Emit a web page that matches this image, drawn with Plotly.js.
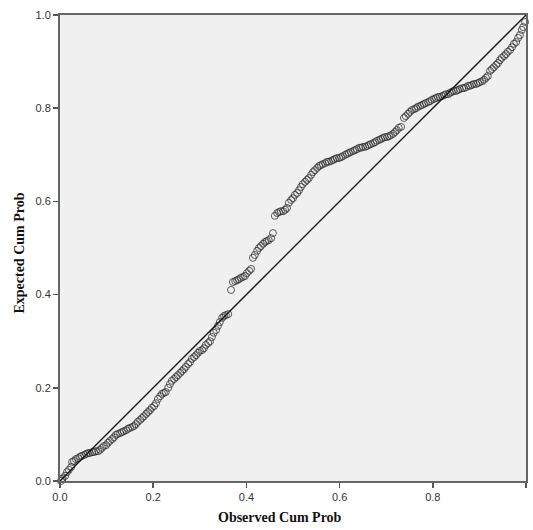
<!DOCTYPE html>
<html>
<head>
<meta charset="utf-8">
<script src="https://cdn.plot.ly/plotly-3.0.1.min.js"></script>
<style>html,body{margin:0;padding:0;background:#fff}#chart{width:533px;height:530px}</style>
</head>
<body>
<div id="chart"></div>
<script>
// Observed cumulative probability (x) and expected cumulative probability (y)
var observedCumProb = [
0.002,0.004,0.006,0.011,0.015,0.019,0.024,0.026,0.030,0.034,0.039,0.043,0.047,0.052,0.056,0.060,0.064,0.069,0.073,0.077,0.082,0.086,
0.090,0.094,0.099,0.103,0.107,0.112,0.116,0.120,0.124,0.129,0.133,0.137,0.142,0.146,0.150,0.155,0.159,0.163,0.167,0.172,0.176,0.180,0.185,0.189,0.193,0.197,0.202,0.206,0.210,0.215,0.219,0.223,0.227,0.232,0.236,0.240,0.245,0.249,0.253,0.258,0.262,0.266,0.270,0.275,0.279,0.283,0.288,0.292,0.296,0.300,0.305,0.309,0.313,0.318,0.322,0.326,0.330,0.335,0.339,0.343,0.348,0.352,0.356,0.361,
0.367,0.371,0.376,0.380,0.384,0.388,0.393,0.397,0.401,0.406,0.410,
0.414,0.418,0.423,0.427,0.431,0.436,0.440,0.444,0.448,0.453,0.457,
0.461,0.466,0.470,0.474,0.479,0.483,0.487,0.491,0.496,0.500,0.504,0.509,0.513,0.517,0.521,0.526,0.530,0.534,0.539,0.543,0.547,0.552,0.556,0.560,0.564,0.569,0.573,0.577,0.582,0.586,0.590,0.594,0.599,0.603,0.607,0.612,0.616,0.620,0.624,0.629,0.633,0.637,0.642,0.646,0.650,0.655,0.659,0.663,0.667,0.672,0.676,0.680,0.685,0.689,0.693,0.697,0.702,0.706,0.710,0.715,0.719,0.723,0.727,0.732,
0.738,0.742,0.747,0.751,0.755,0.760,0.764,0.768,0.773,0.777,0.781,0.785,0.790,0.794,0.798,0.803,0.807,0.811,0.815,0.820,0.824,0.828,0.833,0.837,0.841,0.845,0.850,0.854,0.858,0.863,0.867,0.871,0.876,0.880,0.884,0.888,0.893,0.897,0.901,0.906,0.910,0.914,0.918,0.923,0.927,0.931,0.936,0.940,0.944,0.948,0.953,0.957,0.961,0.966,0.970,0.974,0.979,0.983,0.987,0.991,0.994,0.998
];
var expectedCumProb = [
0.000,0.004,0.006,0.011,0.019,0.024,0.030,0.041,0.043,0.047,0.049,0.052,0.054,0.056,0.058,0.060,0.060,0.062,0.062,0.064,0.064,0.067,
0.071,0.075,0.077,0.082,0.086,0.090,0.094,0.099,0.101,0.103,0.105,0.107,0.109,0.112,0.114,0.116,0.118,0.122,0.127,0.131,0.135,0.139,0.144,0.148,0.152,0.157,0.161,0.167,0.176,0.182,0.187,0.189,0.191,0.200,0.208,0.215,0.219,0.223,0.227,0.232,0.236,0.240,0.245,0.251,0.255,0.262,0.266,0.270,0.275,0.279,0.281,0.285,0.292,0.296,0.300,0.309,0.318,0.324,0.333,0.341,0.350,0.354,0.356,0.358,
0.410,0.427,0.429,0.431,0.433,0.436,0.438,0.440,0.446,0.451,0.455,
0.479,0.485,0.494,0.500,0.504,0.509,0.513,0.515,0.517,0.521,0.532,
0.569,0.575,0.577,0.579,0.579,0.582,0.586,0.597,0.603,0.607,0.614,0.618,0.624,0.631,0.637,0.642,0.646,0.650,0.657,0.663,0.667,0.672,0.676,0.678,0.680,0.682,0.685,0.685,0.687,0.689,0.691,0.693,0.693,0.695,0.697,0.700,0.702,0.704,0.706,0.708,0.710,0.712,0.715,0.715,0.717,0.717,0.719,0.721,0.723,0.725,0.727,0.730,0.732,0.734,0.736,0.738,0.738,0.740,0.742,0.745,0.749,0.753,0.758,0.760,
0.779,0.783,0.788,0.792,0.796,0.798,0.800,0.803,0.805,0.807,0.809,0.811,0.813,0.815,0.818,0.820,0.822,0.824,0.824,0.826,0.828,0.830,0.830,0.833,0.835,0.837,0.837,0.839,0.841,0.843,0.843,0.845,0.848,0.848,0.850,0.852,0.852,0.854,0.856,0.858,0.861,0.865,0.869,0.880,0.884,0.888,0.893,0.897,0.903,0.908,0.912,0.916,0.921,0.925,0.931,0.938,0.942,0.951,0.957,0.968,0.974,0.985
];
var refLineX = [0, 1];
var refLineY = [0, 1];
var tickVals = [0, 0.2, 0.4, 0.6, 0.8, 1.0];
var tickText = ['0.0', '0.2', '0.4', '0.6', '0.8', '1.0'];
var xTitle = 'Observed Cum Prob';
var yTitle = 'Expected Cum Prob';

var traces = [
  {
    x: observedCumProb, y: expectedCumProb, type: 'scatter', mode: 'markers',
    marker: {symbol: 'circle-open', size: 7, color: 'rgba(40,40,40,0.75)', line: {width: 1}},
    hoverinfo: 'x+y', showlegend: false, cliponaxis: false
  },
  {
    x: refLineX, y: refLineY, type: 'scatter', mode: 'lines',
    line: {color: '#111', width: 1.3}, showlegend: false, hoverinfo: 'skip'
  }
];

var axisCommon = {
  range: [0, 1], tickvals: tickVals, ticktext: tickText,
  ticks: 'outside', ticklen: 5, tickwidth: 1.5, tickcolor: '#555',
  showline: true, linecolor: '#666', linewidth: 2, mirror: true,
  showgrid: false, zeroline: false,
  tickfont: {family: 'Liberation Sans, Arial, sans-serif', size: 11, color: '#333'}
};

var titleFont = {family: 'Liberation Serif, Times New Roman, serif', size: 14, color: '#111'};

var layout = {
  width: 533, height: 530,
  margin: {l: 60, r: 7, t: 15, b: 49},
  paper_bgcolor: '#ffffff', plot_bgcolor: '#f0f0f0',
  xaxis: axisCommon,
  yaxis: Object.assign({}, axisCommon),
  annotations: [
    {text: '<b>' + xTitle + '</b>', xref: 'paper', yref: 'paper', x: 0.472, y: -0.078,
      xanchor: 'center', yanchor: 'middle', showarrow: false, font: titleFont},
    {text: '<b>' + yTitle + '</b>', xref: 'paper', yref: 'paper', x: -0.086, y: 0.49,
      xanchor: 'center', yanchor: 'middle', showarrow: false, textangle: -90, font: titleFont}
  ]
};

Plotly.newPlot('chart', traces, layout, {staticPlot: true, displayModeBar: false});
</script>
</body>
</html>
